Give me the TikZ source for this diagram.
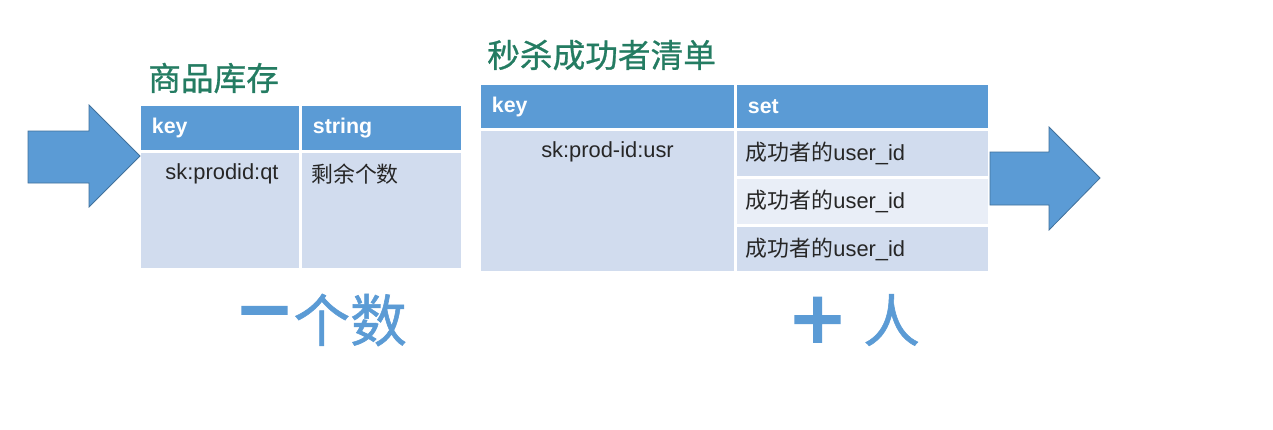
\documentclass[tikz,border=0pt]{standalone}
\usepackage{fontspec}
\setmainfont{Liberation Sans}
\newfontfamily\cjk{Noto Sans CJK SC}
\newfontfamily\cjkttl[FakeBold=0.8]{Noto Sans CJK SC}
\newfontfamily\cjkbig[FakeBold=1]{Noto Sans CJK SC}
\newfontfamily\cjkbold[FakeBold=9]{Noto Sans CJK SC}
\usetikzlibrary{calc,fit,positioning}
\definecolor{hdblue}{RGB}{91,155,213}
\definecolor{rowblue}{RGB}{209,220,238}
\definecolor{rowpale}{RGB}{233,238,247}
\definecolor{ttlgreen}{RGB}{36,124,98}
\definecolor{arrline}{RGB}{65,113,156}
\tikzset{
  cell/.style={inner sep=0pt,outer sep=0pt},
  hcell/.style={cell,fill=hdblue},
  bcell/.style={cell,fill=rowblue},
  pcell/.style={cell,fill=rowpale},
  hdtxt/.style={font=\fontsize{16}{18}\selectfont\bfseries,text=white,inner sep=0pt},
  bodytxt/.style={font=\fontsize{16.4}{18}\selectfont,text=black!85,inner sep=0pt},
  ttl/.style={font=\cjkttl\fontsize{24.5}{28}\selectfont,text=ttlgreen,inner sep=0pt,anchor=west},
  big/.style={font=\cjkbig\fontsize{42.5}{46}\selectfont,text=hdblue,inner sep=0pt,anchor=west},
  sign/.style={font=\cjkbold\fontsize{42.5}{46}\selectfont,text=hdblue,inner sep=0pt,anchor=west},
  blkarrow/.style={fill=hdblue,draw=arrline,line width=0.6pt,line join=miter}
}

\begin{document}
\begin{tikzpicture}[x=0.75pt,y=-0.75pt]
\useasboundingbox (0,0) rectangle (1273,429);
\fill[white] (0,0) rectangle (1273,429);

% stock table
\node[ttl] (stockttl) at (148,78) {商品库存};
\node[hcell,fit={(141,106)(299,150)}] (stockhk) {};
\node[hcell,fit={(302,106)(461,150)}] (stockhv) {};
\node[bcell,fit={(141,153)(299,268)}] (stockbk) {};
\node[bcell,fit={(302,153)(461,268)}] (stockbv) {};
\node[hdtxt,right=8pt of stockhk.west] {key};
\node[hdtxt,right=8pt of stockhv.west] {string};
\node[bodytxt] at ($(stockbk.north)+(2,21)$) {sk:prodid:qt};
\node[bodytxt,anchor=west] at ($(stockbv.north west)+(9,21)$) {\cjk 剩余个数};

% winners table
\node[ttl] (winttl) at (487,55) {秒杀成功者清单};
\node[hcell,fit={(481,85)(734,128)}] (winhk) {};
\node[hcell,fit={(737,85)(988,128)}] (winhv) {};
\node[bcell,fit={(481,131)(734,271)}] (winbk) {};
\node[bcell,fit={(737,131)(988,176)}] (winv1) {};
\node[pcell,fit={(737,179)(988,224)}] (winv2) {};
\node[bcell,fit={(737,227)(988,271)}] (winv3) {};
\node[hdtxt,right=8pt of winhk.west] {key};
\node[hdtxt,right=8pt of winhv.west] {set};
\node[bodytxt] at ($(winbk.north)+(0,21)$) {sk:prod-id:usr};
\foreach \r in {1,2,3}
  \node[bodytxt,right=6.5pt of winv\r.west] {{\cjk 成功者的}user\_id};

% block arrows
\draw[blkarrow] (28,131) -- (89,131) -- (89,105) -- (140,156) -- (89,207) -- (89,183) -- (28,183) -- cycle;
\draw[blkarrow] (990,152) -- (1049,152) -- (1049,127) -- (1100,178) -- (1049,230) -- (1049,205) -- (990,205) -- cycle;

% notes below
\node[sign] (minus) at (236,320) {－};
\node[big,right=0pt of minus] (count) {个数};
\node[sign] (plus) at (789,320) {＋};
\node[big] (person) at (863,320) {人};
\end{tikzpicture}
\end{document}
